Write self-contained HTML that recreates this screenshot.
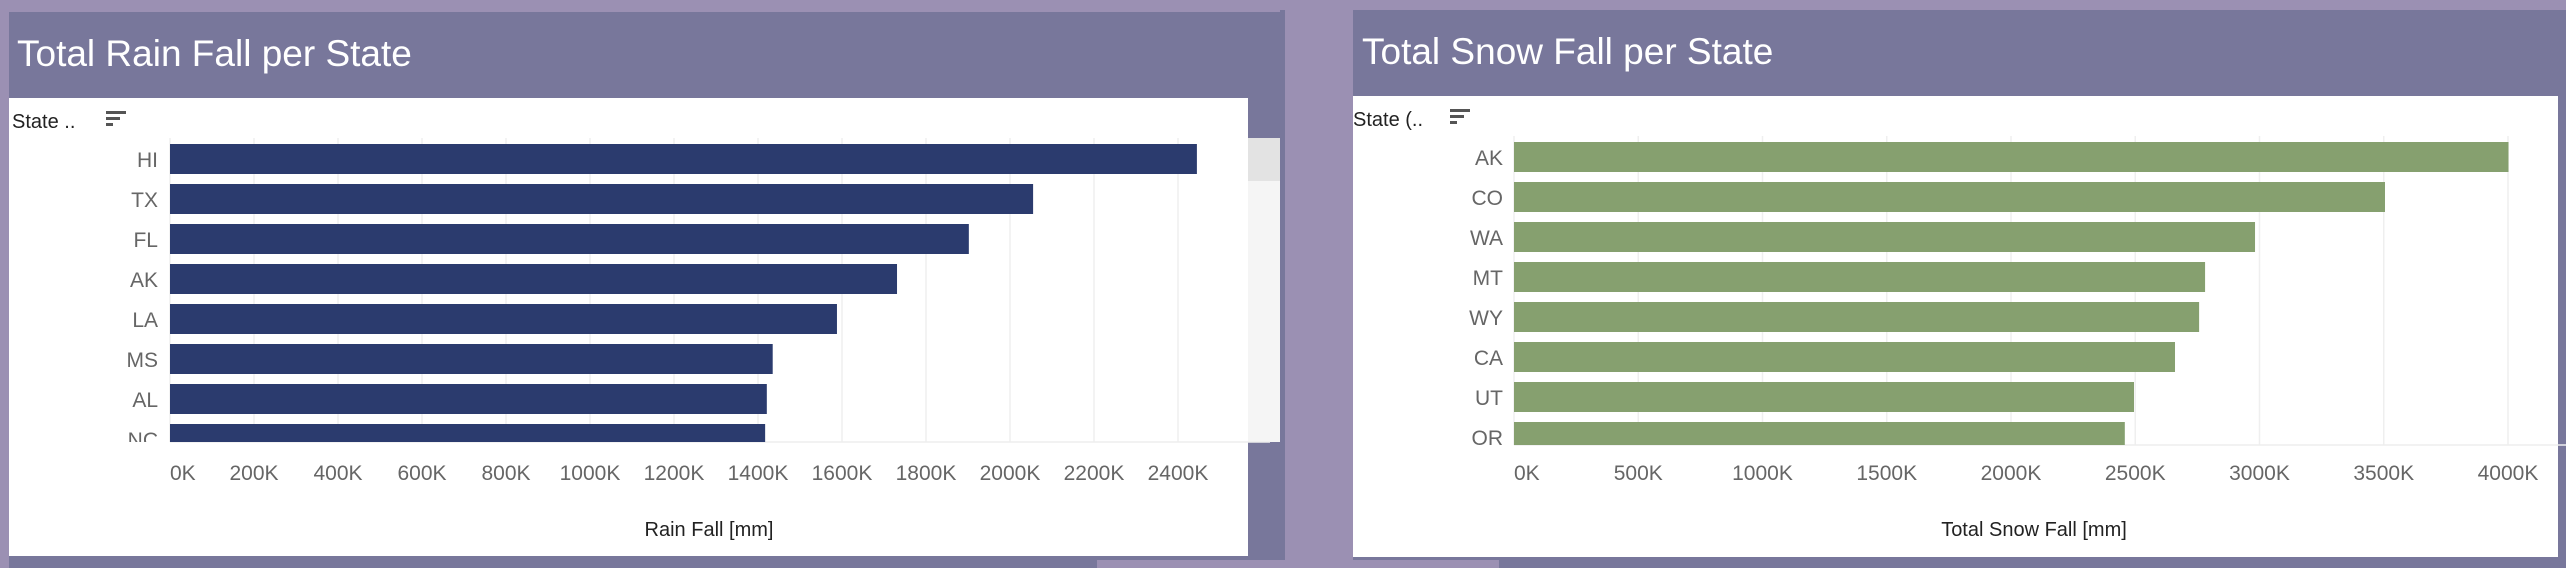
<!DOCTYPE html>
<html><head><meta charset="utf-8"><style>
html,body{margin:0;padding:0;background:#9b90b3;width:2566px;height:568px;overflow:hidden}
svg{display:block;font-family:"Liberation Sans",sans-serif}
</style></head><body>
<svg id="s" width="2566" height="568">
<rect x="0" y="0" width="2566" height="568" fill="#9b90b3"/>
<!-- left panel -->
<rect x="9" y="12" width="1276" height="548" fill="#78779b"/>
<rect x="9" y="98" width="1239" height="458" fill="#ffffff"/>
<rect x="1248" y="138" width="33" height="304" fill="#f5f5f5"/>
<rect x="1248" y="138" width="33" height="43" fill="#e3e3e3"/>
<rect x="9" y="559" width="1088" height="9" fill="#78779b"/>
<text x="17" y="66" font-size="37" fill="#ffffff">Total Rain Fall per State</text>
<text x="12" y="128" font-size="20" fill="#222">State ..</text>
<g><rect x="106" y="111" width="20" height="3" fill="#555"/><rect x="106" y="117" width="14" height="3" fill="#555"/><rect x="106" y="123" width="7" height="3" fill="#555"/></g>
<!-- right panel -->
<rect x="1280" y="10" width="5" height="550" fill="#78779b"/>
<rect x="1353" y="10" width="1213" height="550" fill="#78779b"/>
<rect x="1353" y="96" width="1205" height="461" fill="#ffffff"/>
<rect x="1499" y="559" width="1067" height="9" fill="#78779b"/>
<text x="1362" y="64" font-size="37" fill="#ffffff">Total Snow Fall per State</text>
<text x="1353" y="126" font-size="20" fill="#222">State (..</text>
<g><rect x="1450" y="109" width="20" height="3" fill="#555"/><rect x="1450" y="115" width="14" height="3" fill="#555"/><rect x="1450" y="121" width="7" height="3" fill="#555"/></g>
<defs>
<clipPath id="c1"><rect x="0" y="130" width="1260" height="312"/></clipPath>
<clipPath id="c2"><rect x="1360" y="130" width="1200" height="315"/></clipPath>
</defs>
<g id="g1t"></g><g id="g1" clip-path="url(#c1)"></g>
<g id="g2t"></g><g id="g2" clip-path="url(#c2)"></g>
</svg>
<script>
const rainStates=["HI","TX","FL","AK","LA","MS","AL","NC"];
const rainValues=[2445,2055,1902,1731,1588,1435,1421,1417];
const rainTicks=[0,200,400,600,800,1000,1200,1400,1600,1800,2000,2200,2400];
const snowStates=["AK","CO","WA","MT","WY","CA","UT","OR"];
const snowValues=[4002,3505,2982,2781,2757,2660,2495,2458];
const snowTicks=[0,500,1000,1500,2000,2500,3000,3500,4000];
const NS="http://www.w3.org/2000/svg";
function mk(tag,attrs,parent,text){const e=document.createElementNS(NS,tag);for(const k in attrs)e.setAttribute(k,attrs[k]);if(text!==undefined)e.textContent=text;parent.appendChild(e);return e;}
function chart(cfg){
  const g=document.getElementById(cfg.g),gt=document.getElementById(cfg.g+"t");
  const x=v=>cfg.x0+(v-cfg.t0)*cfg.px;
  cfg.ticks.forEach(t=>{
    const l=mk("line",{x1:x(t),x2:x(t),y1:cfg.top,y2:cfg.bottom,stroke:"#efefef","stroke-width":1.5},gt);
    
    
    const tx=mk("text",{x:x(t),y:480,"font-size":21,fill:"#666","text-anchor":t===0?"start":"middle"},gt,t+"K");
    
    
  });
  mk("line",{x1:cfg.x0,x2:cfg.x0+1100,y1:cfg.bottom,y2:cfg.bottom,stroke:"#eee","stroke-width":1.5},gt);
  cfg.cats.forEach((c,i)=>{
    const y=cfg.y0+i*40;
    const r=mk("rect",{x:cfg.x0,y:y,width:x(cfg.vals[i])-cfg.x0,height:30,fill:cfg.color},g);
    
    
    const t=mk("text",{x:cfg.lx,y:y+23,"font-size":21,fill:"#666","text-anchor":"end"},g,c);
    
    
  });
  const at=mk("text",{x:cfg.titleX,y:536,"font-size":20,fill:"#222","text-anchor":"middle"},gt,cfg.title);
  
  
}
chart({g:"g1",cats:rainStates,vals:rainValues,ticks:rainTicks,x0:170,t0:0,px:84/200,y0:144,top:138,bottom:442,lx:158,color:"#2b3b6e",title:"Rain Fall [mm]",titleX:709});
chart({g:"g2",cats:snowStates,vals:snowValues,ticks:snowTicks,x0:1514,t0:0,px:124.25/500,y0:142,top:136,bottom:445,lx:1503,color:"#86a06f",title:"Total Snow Fall [mm]",titleX:2034});
</script>
</body></html>
